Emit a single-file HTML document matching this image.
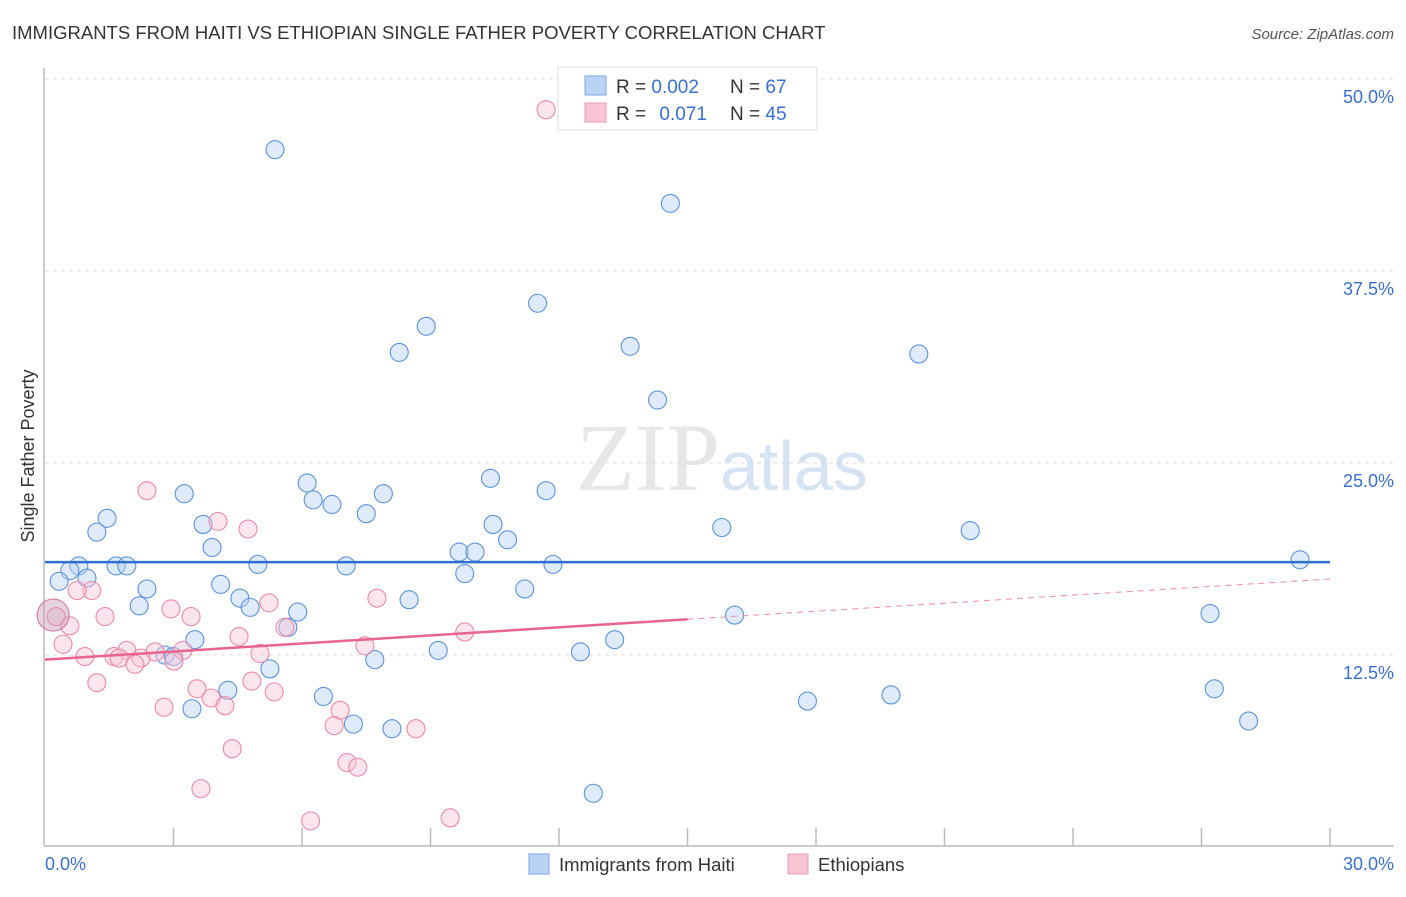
<!DOCTYPE html>
<html><head><meta charset="utf-8"><style>
body{margin:0;background:#fff;font-family:"Liberation Sans",sans-serif;}
</style></head><body>
<svg width="1406" height="892" xmlns="http://www.w3.org/2000/svg" font-family="Liberation Sans, sans-serif">
<text x="12" y="39" font-size="18.5" fill="#333">IMMIGRANTS FROM HAITI VS ETHIOPIAN SINGLE FATHER POVERTY CORRELATION CHART</text>
<text x="1394" y="39" font-size="15" fill="#555" font-style="italic" text-anchor="end">Source: ZipAtlas.com</text>
<g id="grid"></g>
<text x="720" y="490" font-size="96" font-family="Liberation Serif, serif" fill="#ddd" text-anchor="end" opacity="0.7">ZIP</text>
<text x="720" y="490" font-size="70" fill="#c5d8ef" opacity="0.7">atlas</text>
<g id="axes"></g>
<g id="marks"></g>
<text x="34" y="456" font-size="18" fill="#333" transform="rotate(-90 34 456)" text-anchor="middle">Single Father Poverty</text>
<text x="45" y="870" font-size="18" fill="#3a6fd0">0.0%</text>
<text x="1394" y="870" font-size="18" fill="#3a6fd0" text-anchor="end">30.0%</text>
<g>
<rect x="558" y="67" width="259" height="63" fill="#fff" stroke="#ddd"/>
<rect x="585" y="76" width="21" height="19" fill="#b9d3f5" stroke="#7da7e6"/>
<rect x="585" y="103" width="21" height="19" fill="#f9c5d4" stroke="#ef9ab3"/>
<text x="616" y="93" font-size="19" fill="#333">R = <tspan fill="#3a6fd0">0.002</tspan></text>
<text x="730" y="93" font-size="19" fill="#333">N = <tspan fill="#3a6fd0">67</tspan></text>
<text x="616" y="120" font-size="19" fill="#333">R = <tspan fill="#3a6fd0" dx="8">0.071</tspan></text>
<text x="730" y="120" font-size="19" fill="#333">N = <tspan fill="#3a6fd0">45</tspan></text>
</g>
<g>
<rect x="529" y="854" width="20" height="20" fill="#b9d3f5" stroke="#7da7e6"/>
<text x="559" y="871" font-size="18.5" fill="#333">Immigrants from Haiti</text>
<rect x="788" y="854" width="20" height="20" fill="#f9c5d4" stroke="#ef9ab3"/>
<text x="818" y="871" font-size="18.5" fill="#333">Ethiopians</text>
</g>
</svg>
<script>
const yTicks=[12.5,25.0,37.5,50.0];
const yTickLabels=["12.5%","25.0%","37.5%","50.0%"];
const xTicks=[0,3,6,9,12,15,18,21,24,27,30];
const haitiX=[5.37,14.6,11.5,8.9,8.27,13.66,20.4,14.3,10.4,6.12,11.7,3.25,7.9,6.26,6.7,7.5,1.45,3.69,10.46,15.8,21.6,1.21,10.8,3.9,9.67,10.04,1.66,1.91,0.79,4.97,7.03,11.86,29.3,0.58,0.98,9.8,0.33,4.1,2.38,11.2,4.55,8.5,2.2,4.79,5.9,27.2,16.1,5.67,3.5,13.3,9.18,12.5,2.8,3.0,7.7,5.25,27.3,4.27,6.5,19.75,17.8,3.43,7.2,28.1,8.1,12.8];
const haitiY=[45.4,41.9,35.4,33.9,32.2,32.6,32.1,29.1,24.0,23.7,23.2,23.0,23.0,22.6,22.3,21.7,21.4,21.0,21.0,20.8,20.6,20.5,20.0,19.5,19.2,19.2,18.3,18.3,18.3,18.4,18.3,18.4,18.7,18.0,17.5,17.8,17.3,17.1,16.8,16.8,16.2,16.1,15.7,15.6,15.3,15.2,15.1,14.3,13.5,13.5,12.8,12.7,12.5,12.4,12.2,11.6,10.3,10.2,9.8,9.9,9.5,9.0,8.0,8.2,7.7,3.5];
const ethX=[11.7,2.38,4.04,4.74,1.09,0.75,7.75,5.23,2.94,3.41,1.4,0.26,0.58,5.6,9.8,4.53,0.42,7.47,1.91,3.22,2.57,1.61,0.93,1.73,2.24,5.02,3.01,2.1,1.21,3.55,5.35,3.88,4.83,2.78,4.2,6.89,6.75,8.66,4.37,7.05,7.3,3.64,6.2,9.46];
const ethY=[48.0,23.2,21.2,20.7,16.7,16.7,16.2,15.9,15.5,15.0,15.0,15.0,14.4,14.3,14.0,13.7,13.2,13.1,12.8,12.8,12.7,12.4,12.4,12.3,12.3,12.6,12.1,11.9,10.7,10.3,10.1,9.7,10.8,9.1,9.2,8.9,7.9,7.7,6.4,5.5,5.2,3.8,1.7,1.9];
const bigX=[0.19], bigY=[15.1];
const haitiTrend=[18.55,18.55];
const ethTrend=[12.2,17.45];
const X=v=>45+v/30*1285, Y=v=>847-v/50*768;
const NS="http://www.w3.org/2000/svg";
function mk(parent,tag,attrs){const e=document.createElementNS(NS,tag);for(const k in attrs)e.setAttribute(k,attrs[k]);parent.appendChild(e);return e;}
const grid=document.getElementById('grid'),axes=document.getElementById('axes'),marks=document.getElementById('marks');
yTicks.forEach((t,i)=>{
 const l=mk(grid,'line',{x1:45,x2:1394,y1:Y(t),y2:Y(t),stroke:'#ddd','stroke-dasharray':'4 4'});
 
 
 const tx=mk(grid,'text',{x:1394,y:Y(t)+24,'font-size':18,fill:'#3a6fd0','text-anchor':'end'});tx.textContent=yTickLabels[i];
 
 
});
mk(axes,'line',{x1:44,x2:44,y1:68,y2:846,stroke:'#bbb','stroke-width':1.5});
mk(axes,'line',{x1:44,x2:1394,y1:846,y2:846,stroke:'#bbb','stroke-width':1.5});
xTicks.forEach(t=>{if(t===0)return;const l=mk(axes,'line',{x1:X(t),x2:X(t),y1:828,y2:846,stroke:'#bbb','stroke-width':1.5});
 
 });
function dots(xs,ys,fill,stroke,r,name){xs.forEach((x,i)=>{const c=mk(marks,'circle',{cx:X(x),cy:Y(ys[i]),r:r,fill:fill,'fill-opacity':0.45,stroke:stroke,'stroke-width':1.1});
 
 });}
dots(haitiX,haitiY,'#b9d3f5','#5a92dc',9,'haiti-point');
dots(ethX,ethY,'#f9c5d4','#ec89a8',9,'ethiopian-point');
dots(bigX,bigY,'#c89ab8','#d07aa0',16,'ethiopian-point-large');
let l=mk(marks,'line',{x1:X(0),x2:X(30),y1:Y(haitiTrend[0]),y2:Y(haitiTrend[1]),stroke:'#2f6fd0','stroke-width':2.5});


const em=ethTrend[0]+(ethTrend[1]-ethTrend[0])*0.5;
l=mk(marks,'line',{x1:X(0),x2:X(15),y1:Y(ethTrend[0]),y2:Y(em),stroke:'#e8648e','stroke-width':2.5});


l=mk(marks,'line',{x1:X(15),x2:X(30),y1:Y(em),y2:Y(ethTrend[1]),stroke:'#ec8aa8','stroke-width':1,'stroke-dasharray':'6 5'});


</script>
</body></html>
